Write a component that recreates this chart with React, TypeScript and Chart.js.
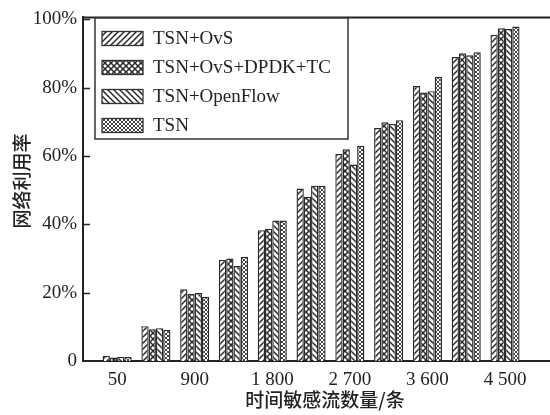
import React, { useEffect, useRef } from "react";
import { Chart, registerables } from "chart.js";
Chart.register(...registerables);

const categories = ["50", "450", "900", "1 350", "1 800", "2 250", "2 700", "3 150", "3 600", "4 050", "4 500"];
const labeledIndices = [0, 2, 4, 6, 8, 10];
const yTickValues = [0, 20, 40, 60, 80, 100];
const seriesNames = ["TSN+OvS", "TSN+OvS+DPDK+TC", "TSN+OpenFlow", "TSN"];

const tsnOvs = [1.5, 10.2, 21.0, 29.6, 38.3, 50.5, 60.6, 68.2, 80.5, 89.0, 95.5];
const tsnOvsDpdkTc = [1.0, 9.3, 19.6, 30.0, 38.7, 48.1, 62.0, 69.9, 78.6, 90.1, 97.4];
const tsnOpenFlow = [1.2, 9.6, 19.9, 27.8, 41.1, 51.3, 57.5, 69.4, 79.0, 89.5, 97.2];
const tsn = [1.2, 9.1, 18.8, 30.5, 41.1, 51.3, 63.0, 70.5, 83.2, 90.4, 97.9];

const seriesValues = [tsnOvs, tsnOvsDpdkTc, tsnOpenFlow, tsn];
const patternKinds = ["fwd", "cross", "back", "dense"];

function makePattern(kind: string): CanvasPattern | string {
  const size = kind === "dense" ? 4 : 6;
  const c = document.createElement("canvas");
  c.width = size;
  c.height = size;
  const g = c.getContext("2d");
  if (!g) return "#fff";
  g.fillStyle = "#fff";
  g.fillRect(0, 0, size, size);
  g.strokeStyle = kind === "dense" ? "#444" : "#2a2a2a";
  g.lineWidth = kind === "dense" ? 1.0 : 1.5;
  const fwd = () => {
    g.beginPath();
    g.moveTo(0, size); g.lineTo(size, 0);
    g.moveTo(-1, 1); g.lineTo(1, -1);
    g.moveTo(size - 1, size + 1); g.lineTo(size + 1, size - 1);
    g.stroke();
  };
  const back = () => {
    g.beginPath();
    g.moveTo(0, 0); g.lineTo(size, size);
    g.moveTo(size - 1, -1); g.lineTo(size + 1, 1);
    g.moveTo(-1, size - 1); g.lineTo(1, size + 1);
    g.stroke();
  };
  if (kind === "fwd") fwd();
  else if (kind === "back") back();
  else { fwd(); back(); }
  const p = g.createPattern(c, "repeat");
  return p || "#fff";
}

const FONT_SERIF = '"Liberation Serif", "Times New Roman", serif';
const FONT_CJK = '"Noto Sans CJK SC", sans-serif';

export default function App() {
  const ref = useRef<HTMLCanvasElement | null>(null);

  useEffect(() => {
    if (!ref.current) return;
    const patterns = patternKinds.map(makePattern);

    const decor = {
      id: "decor",
      afterDraw(chart: any) {
        const ctx = chart.ctx;
        const area = chart.chartArea;
        const y = chart.scales.y;
        ctx.save();
        // top frame line
        ctx.strokeStyle = "#222";
        ctx.lineWidth = 2;
        ctx.beginPath();
        ctx.moveTo(area.left - 1, area.top);
        ctx.lineTo(550, area.top);
        ctx.stroke();
        // inward y ticks
        ctx.lineWidth = 1.5;
        yTickValues.forEach((v) => {
          if (v === 0) return;
          const py = Math.round(y.getPixelForValue(v)) + 0.5;
          ctx.beginPath();
          ctx.moveTo(area.left, py);
          ctx.lineTo(area.left + 7, py);
          ctx.stroke();
        });
        // legend
        const bx = 95, by = 18, bw = 253, bh = 121;
        ctx.fillStyle = "#fff";
        ctx.fillRect(bx, by, bw, bh);
        ctx.strokeStyle = "#333";
        ctx.lineWidth = 1.5;
        ctx.strokeRect(bx, by, bw, bh);
        seriesNames.forEach((name, i) => {
          const cy = 38.5 + i * 29;
          ctx.fillStyle = patterns[i] as any;
          ctx.fillRect(102, cy - 7, 41, 14);
          ctx.strokeStyle = "#333";
          ctx.lineWidth = 1.3;
          ctx.strokeRect(102, cy - 7, 41, 14);
          ctx.fillStyle = "#222";
          ctx.font = `19px ${FONT_SERIF}`;
          ctx.textAlign = "left";
          ctx.textBaseline = "middle";
          ctx.fillText(name, 153, cy + 1);
        });
        // axis titles
        ctx.fillStyle = "#222";
        ctx.font = `500 19px ${FONT_CJK}`;
        ctx.textAlign = "center";
        ctx.textBaseline = "middle";
        ctx.fillText("时间敏感流数量/条", 325, 400);
        ctx.save();
        ctx.translate(22, 181);
        ctx.rotate(-Math.PI / 2);
        ctx.fillText("网络利用率", 0, 0);
        ctx.restore();
        ctx.restore();
      },
    };

    const chart = new Chart(ref.current, {
      type: "bar",
      data: {
        datasets: seriesNames.map((name, i) => ({
          label: name,
          data: seriesValues[i].map((v, idx) => ({ x: idx, y: v })),
          backgroundColor: patterns[i] as any,
          borderColor: "#2a2a2a",
          borderWidth: 1.4,
          categoryPercentage: 0.75,
          barPercentage: 1,
        })),
      },
      options: {
        responsive: false,
        animation: false,
        devicePixelRatio: 1,
        layout: { padding: { top: 15, left: 0, right: 0, bottom: 0 } },
        plugins: { legend: { display: false }, tooltip: { enabled: false } },
        scales: {
          x: {
            type: "linear",
            offset: false,
            min: -0.88,
            max: 11.16,
            grid: { display: false, drawTicks: false, offset: false },
            border: { display: true, color: "#222", width: 2 },
            afterBuildTicks: (s: any) => {
              s.ticks = labeledIndices.map((v) => ({ value: v }));
            },
            afterFit: (s: any) => {
              s.height = 54;
            },
            ticks: {
              autoSkip: false,
              maxRotation: 0,
              padding: 8,
              color: "#222",
              font: { family: FONT_SERIF, size: 19 },
              callback: (v: any) => categories[Number(v)] ?? "",
            },
          },
          y: {
            min: 0,
            max: 100.6,
            grid: { display: false, drawTicks: false },
            border: { display: true, color: "#222", width: 2 },
            afterBuildTicks: (s: any) => {
              s.ticks = yTickValues.map((v) => ({ value: v }));
            },
            afterFit: (s: any) => {
              s.width = 83;
            },
            ticks: {
              padding: 6,
              color: "#222",
              font: { family: FONT_SERIF, size: 19 },
              callback: (v: any) => (Number(v) === 0 ? "0" : `${v}%`),
            },
          },
        },
      } as any,
      plugins: [decor],
    });
    return () => chart.destroy();
  }, []);

  return (
    <div style={{ position: "fixed", left: 0, top: 0, width: 550, height: 415, background: "#fff" }}>
      <canvas ref={ref} width={550} height={415} style={{ display: "block", width: 550, height: 415 }} />
    </div>
  );
}
